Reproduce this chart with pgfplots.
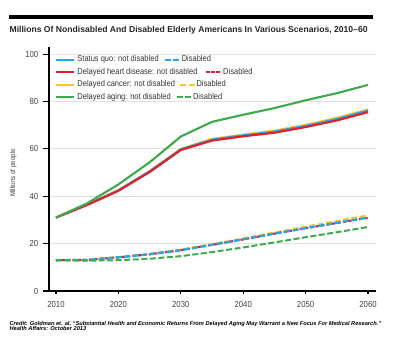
\documentclass[border=0pt]{standalone}
\usepackage{fontspec}
\setmainfont{Liberation Sans}[FakeStretch=0.88]
\newfontfamily\plainsans{Liberation Sans}
\usepackage{pgfplots}
\pgfplotsset{compat=1.18}
\definecolor{sqblue}{RGB}{40,168,224}
\definecolor{hdred}{RGB}{224,30,48}
\definecolor{cayel}{RGB}{253,196,45}
\definecolor{aggreen}{RGB}{62,170,76}
\newcommand{\dsh}[1]{\textcolor{#1}{\rule[0.9pt]{4.6pt}{1.4pt}\hspace{1.8pt}\rule[0.9pt]{4.6pt}{1.4pt}}}
\newcommand{\dshr}{\textcolor{hdred}{\rule[0.7pt]{3.1pt}{1.9pt}\hspace{0.9pt}\rule[0.7pt]{3.1pt}{1.9pt}\hspace{0.9pt}\rule[0.7pt]{3.1pt}{1.9pt}}}
\begin{document}
\begin{tikzpicture}
\path[use as bounding box] (0,0) rectangle (300pt,264pt);
\fill[black] (6.75pt,250.1pt) rectangle (279.75pt,252.75pt);
\node[anchor=base west, inner sep=0pt, font=\plainsans\bfseries\fontsize{6.45}{7}\selectfont, text=black!85] at (7pt,239.8pt) {Millions Of Nondisabled And Disabled Elderly Americans In Various Scenarios, 2010–60};
\node[anchor=base west, inner sep=0pt, font=\plainsans\bfseries\itshape\fontsize{4.25}{5}\selectfont] at (7pt,20.1pt) {Credit: Goldman et. al, “Substantial Health and Economic Returns From Delayed Aging May Warrant a New Focus For Medical Research.”};
\node[anchor=base west, inner sep=0pt, font=\plainsans\bfseries\itshape\fontsize{4.25}{5}\selectfont] at (7pt,16.0pt) {Health Affairs: October 2013};
\begin{axis}[
  at={(36.75pt,45.75pt)}, anchor=south west,
  scale only axis, width=245.25pt, height=183pt,
  xmin=2008.88, xmax=2061.28, ymin=0, ymax=103,
  axis x line*=bottom, axis y line*=left,
  axis line style={line width=1pt, black},
  xtick={2010,2020,...,2060}, ytick={0,20,...,100},
  /pgf/number format/1000 sep={},
  /pgf/number format/assume math mode=true,
  ticklabel style={font=\fontsize{6.6}{7}\selectfont, text=black!75},
  tick align=outside, major tick length=4.5pt,
  tick style={black, line width=0.8pt},
  xtick style={/pgfplots/major tick length=2.5pt},
  ymajorgrids, grid style={black!12, line width=0.6pt},
  ylabel={Millions of people},
  ylabel style={at={(axis description cs:-0.109,0.484)}, anchor=center, font=\fontsize{5.3}{6}\selectfont, text=black!75},
  legend cell align=left,
  legend style={at={(rel axis cs:0.018,0.97)}, anchor=north west, draw=none, fill=none,
    font=\fontsize{6.4}{7}\selectfont, text=black!80, inner sep=0pt, row sep=1.6pt,
    nodes={inner ysep=0.8pt, inner xsep=1.5pt}},
  legend image code/.code={\draw[#1] (0pt,0pt) -- (13.5pt,0pt);},
]
\addlegendimage{sqblue, line width=1.7pt}
\addlegendentry{Status quo: not disabled\hspace{4.5pt}\dsh{sqblue}\hspace{1.8pt}Disabled}
\addlegendimage{hdred, line width=1.7pt}
\addlegendentry{Delayed heart disease: not disabled\hspace{6pt}\dshr\hspace{2.2pt}Disabled}
\addlegendimage{cayel, line width=1.7pt}
\addlegendentry{Delayed cancer: not disabled\hspace{4pt}\dsh{cayel}\hspace{1.2pt}Disabled}
\addlegendimage{aggreen, line width=1.7pt}
\addlegendentry{Delayed aging: not disabled\hspace{4.5pt}\dsh{aggreen}\hspace{1.2pt}Disabled}
% disabled (dashed)
\addplot[forget plot, cayel, line width=1.5pt, dash pattern=on 4.5pt off 1.9pt] coordinates {
(2010,13.1) (2015,13.2) (2020,14.4) (2025,15.7) (2030,17.5) (2035,19.8) (2040,22.2) (2045,24.7) (2050,27.1) (2055,29.5) (2060,32.0)};
\addplot[forget plot, hdred, line width=1.6pt, dash pattern=on 2.5pt off 1.6pt] coordinates {
(2010,13.0) (2015,13.1) (2020,14.2) (2025,15.5) (2030,17.2) (2035,19.5) (2040,21.8) (2045,24.2) (2050,26.5) (2055,28.7) (2060,30.9)};
\addplot[forget plot, sqblue, line width=1.7pt, dash pattern=on 4.5pt off 1.9pt] coordinates {
(2010,13.0) (2015,13.1) (2020,14.2) (2025,15.5) (2030,17.2) (2035,19.5) (2040,21.8) (2045,24.2) (2050,26.5) (2055,28.8) (2060,31.0)};
\addplot[forget plot, aggreen, line width=1.5pt, dash pattern=on 4.5pt off 1.9pt] coordinates {
(2010,13.0) (2015,12.8) (2020,13.0) (2025,13.6) (2030,14.7) (2035,16.4) (2040,18.4) (2045,20.5) (2050,22.7) (2055,24.8) (2060,27.0)};
% not disabled (solid)
\addplot[forget plot, cayel, line width=1.6pt] coordinates {
(2010,31.0) (2015,36.5) (2020,42.6) (2025,50.7) (2030,60.0) (2035,64.2) (2040,66.0) (2045,67.7) (2050,70.1) (2055,73.1) (2060,76.6)};
\addplot[forget plot, sqblue, line width=1.6pt] coordinates {
(2010,31.0) (2015,36.4) (2020,42.5) (2025,50.5) (2030,59.8) (2035,63.9) (2040,65.7) (2045,67.3) (2050,69.7) (2055,72.6) (2060,76.2)};
\addplot[forget plot, hdred, line width=1.6pt] coordinates {
(2010,31.0) (2015,36.3) (2020,42.3) (2025,50.2) (2030,59.5) (2035,63.5) (2040,65.3) (2045,66.8) (2050,69.2) (2055,72.0) (2060,75.5)};
\addplot[forget plot, aggreen, line width=1.6pt] coordinates {
(2010,31.0) (2015,37.0) (2020,45.0) (2025,54.3) (2030,65.2) (2035,71.4) (2040,74.4) (2045,77.2) (2050,80.5) (2055,83.5) (2060,87.0)};
\end{axis}
\end{tikzpicture}
\end{document}
